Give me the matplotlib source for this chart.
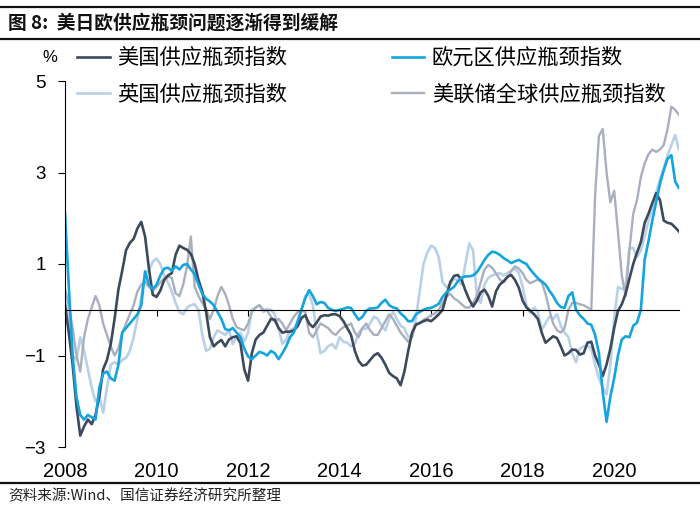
import matplotlib
matplotlib.use("Agg")
import matplotlib.pyplot as plt
from matplotlib.lines import Line2D
import numpy as np

plt.rcParams['font.family'] = ['Noto Sans CJK SC', 'DejaVu Sans']

# monthly data, 2008-01 .. 2021-06
start_year = 2008
us = [0.1, -0.5, -1.2, -2.1, -2.75, -2.55, -2.4, -2.5, -2.3, -1.9, -1.3, -1.1,
      -0.75, -0.2, 0.44, 0.85, 1.3, 1.46, 1.55, 1.78, 1.92, 1.6, 0.9, 0.33,
      0.28, 0.42, 0.65, 0.75, 0.8, 1.2, 1.4, 1.35, 1.31, 1.22, 1.0, 0.65,
      0.4, -0.05, -0.6, -0.8, -0.72, -0.66, -0.8, -0.65, -0.6, -0.58, -0.73, -1.3,
      -1.55, -0.95, -0.65, -0.55, -0.5, -0.35, -0.2, -0.22, -0.4, -0.5, -0.48, -0.48,
      -0.45, -0.36, -0.18, -0.12, -0.3, -0.38, -0.28, -0.15, -0.12, -0.13, -0.1, -0.1,
      -0.14, -0.25, -0.4, -0.55, -0.9, -1.12, -1.22, -1.2, -1.1, -1.0, -0.95, -1.05,
      -1.2, -1.38, -1.45, -1.5, -1.65, -1.35, -0.9, -0.5, -0.33, -0.29, -0.25, -0.22,
      -0.25, -0.18, -0.1, 0.0, 0.3, 0.6, 0.74, 0.76, 0.65, 0.42, 0.22, 0.07,
      0.2, 0.38, 0.44, 0.3, 0.07, 0.4, 0.55, 0.62, 0.72, 0.76, 0.65, 0.48,
      0.2, 0.05, -0.02, -0.1, -0.2, -0.5, -0.72, -0.65, -0.58, -0.62, -0.8, -1.0,
      -0.95, -0.87, -0.88, -0.98, -0.95, -0.72, -0.7, -1.0, -1.2, -1.45, -1.2, -0.85,
      -0.4, -0.02, 0.12, 0.35, 0.68, 1.0, 1.25, 1.48, 1.9, 2.1, 2.33, 2.55,
      2.4, 1.95, 1.9, 1.88, 1.8, 1.71]

euro = [2.1, 0.5, -1.0, -1.9, -2.3, -2.4, -2.3, -2.35, -2.4, -1.7, -1.4, -1.35,
        -1.5, -1.55, -1.2, -0.5, -0.4, -0.3, -0.2, -0.1, 0.1, 0.84, 0.55, 0.45,
        0.55, 0.75, 0.9, 0.92, 0.85, 0.95, 0.88, 0.98, 1.0, 0.88, 0.78, 0.55,
        0.35, 0.24, 0.18, 0.1, -0.05, -0.2, -0.42, -0.45, -0.4, -0.5, -0.6, -0.85,
        -1.02, -1.08, -1.0, -0.92, -0.95, -1.0, -0.9, -0.95, -1.08, -0.95, -0.8, -0.6,
        -0.5, -0.25, 0.0, 0.25, 0.43, 0.3, 0.12, 0.17, 0.15, 0.04, 0.0, -0.03,
        0.0, 0.02, 0.05, 0.04, -0.1, -0.22, -0.15, -0.02, 0.03, 0.03, 0.05, 0.15,
        0.22, 0.1, 0.05, 0.03, -0.08, -0.15, -0.25, -0.25, -0.1, -0.05, 0.0, 0.03,
        0.04, 0.08, 0.13, 0.28, 0.38, 0.44, 0.5, 0.62, 0.7, 0.73, 0.73, 0.75,
        0.82, 0.95, 1.09, 1.2, 1.27, 1.25, 1.2, 1.13, 1.08, 1.02, 1.06, 1.09,
        1.04, 1.0, 0.88, 0.78, 0.69, 0.62, 0.55, 0.42, 0.3, 0.15, 0.06, 0.04,
        0.3, 0.38, 0.0, -0.12, -0.2, -0.3, -0.33, -0.55, -0.95, -1.8, -2.45, -1.9,
        -1.5, -1.0, -0.65, -0.58, -0.6, -0.35, -0.28, 0.0, 1.1, 1.5, 1.95, 2.35,
        2.75, 3.05, 3.3, 3.38, 2.8, 2.66]

uk = [0.3, -0.3, -1.0, -1.1, -0.6, -0.9, -1.3, -1.7, -2.0, -1.9, -2.25, -1.7,
      -1.2, -1.15, -1.2, -1.1, -1.05, -0.9, -0.6, -0.2, 0.3, 0.8, 0.85, 1.05,
      1.12, 1.0, 0.75, 0.6, 0.4, 0.15, -0.05, -0.1, 0.05, 0.1, 0.12, 0.0,
      -0.55, -0.9, -0.85, -0.6, -0.45, -0.5, -0.55, -0.45, -0.75, -0.6, -0.5, -0.7,
      -0.5, 0.0, 0.05, 0.1, -0.05, 0.02, 0.0, -0.1, -0.4, -0.75, -0.65, -0.45,
      -0.4, -0.3, 0.0, 0.3, 0.35, 0.1, -0.5, -0.95, -0.9, -0.8, -0.75, -0.85,
      -0.6, -0.7, -0.72, -0.8, -0.75, -0.5, -0.4, -0.42, -0.3, -0.15, -0.2, -0.35,
      -0.45, -0.2, -0.05, -0.2, -0.35, -0.4, -0.6, -0.55, -0.2, 0.4, 1.0, 1.25,
      1.4, 1.35, 1.15, 0.6, 0.5, 0.55, 0.68, 0.65, 0.55, 1.0, 1.45, 1.3,
      0.3, 0.15, 0.55, 0.7, 0.75, 0.78, 0.8, 0.75, 0.8, 0.85, 0.9, 0.8,
      0.5, 0.1, -0.07, 0.05, -0.05, -0.44, -0.3, -0.15, -0.2, -0.1, -0.35, -0.5,
      -0.6, -0.95, -1.15, -0.85, -0.8, -0.78, -0.85, -1.2, -1.5, -1.7, -1.85, -1.2,
      -0.2, 0.5, 0.45, 0.5, 1.35, 1.35, 1.15, 1.3, 1.6, 1.95, 2.2, 2.55,
      2.85, 3.1, 3.38, 3.6, 3.82, 3.5]

fed = [0.45, 0.1, -0.4, -1.0, -1.35, -0.6, -0.2, 0.05, 0.3, 0.1, -0.3, -0.55,
       -0.8, -1.0, -0.85, -0.5, -0.3, -0.1, 0.1, 0.4, 0.55, 0.62, 0.5, 0.42,
       0.5, 0.6, 0.68, 0.72, 0.7, 0.36, 0.3, 0.55, 0.95, 1.6, 0.5, 0.3,
       0.15, 0.0, -0.2, 0.0, 0.3, 0.5, 0.35, 0.1, -0.2, -0.38, -0.42, -0.45,
       -0.3, -0.05, 0.05, 0.1, 0.0, -0.02, -0.15, -0.25, -0.2, -0.3, -0.45, -0.3,
       -0.15, -0.05, -0.02, -0.05, -0.5, -0.6, -0.45, -0.3, -0.35, -0.4, -0.5, -0.55,
       -0.45, -0.38, -0.35, -0.3, -0.5, -0.6, -0.4, -0.3, -0.45, -0.55, -0.55, -0.4,
       -0.25, -0.1, -0.2, -0.35, -0.5, -0.6, -0.7, -0.6, -0.3, -0.3, -0.22, -0.18,
       -0.12, -0.08, 0.0, 0.15, 0.28, 0.35, 0.25, 0.2, 0.12, 0.05, 0.05, 0.15,
       0.3, 0.6, 0.88, 0.98, 0.92, 0.8, 0.66, 0.6, 0.7, 0.85, 0.95, 0.9,
       0.8, 0.65, 0.58, 0.62, 0.66, 0.6, 0.35, 0.0, -0.3, -0.45, -0.5, -0.4,
       0.0, 0.15, 0.15, 0.12, 0.1, 0.05, 0.0, 2.5, 3.8, 3.95, 3.0, 2.35,
       2.6, 1.7, 0.75, 0.3, 1.3, 2.1, 2.4, 2.9, 3.2, 3.4, 3.5, 3.45,
       3.5, 3.6, 3.95, 4.44, 4.37, 4.26]

labels = ["美国供应瓶颈指数", "英国供应瓶颈指数", "欧元区供应瓶颈指数", "美联储全球供应瓶颈指数"]
year_ticks = [2008, 2010, 2012, 2014, 2016, 2018, 2020]
y_ticks = [-3, -1, 1, 3, 5]

c_us = "#3d4a5c"
c_euro = "#14a5de"
c_uk = "#b9d1e8"
c_fed = "#a9afbd"

t = start_year + np.arange(len(us)) / 12.0

fig = plt.figure(figsize=(7, 5.18), dpi=100)
ax = fig.add_axes([65 / 700, 71 / 518, 614 / 700, 366 / 518])

l_uk, = ax.plot(t, uk, color=c_uk, lw=1.9)
l_fed, = ax.plot(t, fed, color=c_fed, lw=1.7)
l_us, = ax.plot(t, us, color=c_us, lw=1.9)
l_euro, = ax.plot(t, euro, color=c_euro, lw=1.9)

ax.set_xlim(t[0], t[-1])
ax.set_ylim(-3, 5)

for s in ["top", "right"]:
    ax.spines[s].set_visible(False)
ax.spines["bottom"].set_position(("data", 0))
ax.spines["bottom"].set_linewidth(0.8)
ax.spines["left"].set_linewidth(0.8)

ax.set_xticks(year_ticks)
ax.tick_params(axis="x", direction="out", length=4, width=0.8, labelbottom=False)
ax.set_yticks(y_ticks)
ax.set_yticklabels([str(v).replace("-", "\u2212") for v in y_ticks],
                   fontfamily="Liberation Sans", fontsize=13.5)
ax.tick_params(axis="y", direction="out", length=5, width=0.8, pad=9)

sec = ax.secondary_xaxis("bottom")
sec.spines["bottom"].set_visible(False)
sec.set_xticks(year_ticks)
sec.set_xticklabels([str(y) for y in year_ticks], fontfamily="Liberation Sans", fontsize=14.5)
sec.tick_params(length=0, pad=11)

fig.text(50 / 700, 1 - 57 / 518, "%", fontfamily="Liberation Sans", fontsize=12,
         ha="center", va="center")

leg = ax.legend([l_us, l_uk, l_euro, l_fed], labels, ncol=2, frameon=False,
                loc="upper left", bbox_to_anchor=(77 / 700, 1 - 47 / 518),
                bbox_transform=fig.transFigure, borderpad=0, borderaxespad=0,
                fontsize=15.3, handlelength=1.55, handletextpad=0.35,
                columnspacing=4.9, labelspacing=0.68)

# title bar and footer
fig.add_artist(Line2D([0, 1], [1 - 7 / 518, 1 - 7 / 518], color="#111111", lw=1.6,
                      transform=fig.transFigure))
fig.add_artist(Line2D([0, 1], [1 - 39 / 518, 1 - 39 / 518], color="#111111", lw=1.6,
                      transform=fig.transFigure))
fig.text(8 / 700, 1 - 23 / 518, "图 8:  美日欧供应瓶颈问题逐渐得到缓解", fontsize=13.5,
         fontweight="bold", ha="left", va="center", color="#111111")
fig.add_artist(Line2D([0, 1], [1 - 483 / 518, 1 - 483 / 518], color="#111111", lw=1.6,
                      transform=fig.transFigure))
fig.text(8 / 700, 1 - 496 / 518, "资料来源:Wind、国信证券经济研究所整理", fontsize=10.5,
         ha="left", va="center", color="#222222")

fig.savefig("out.png", dpi=100)
